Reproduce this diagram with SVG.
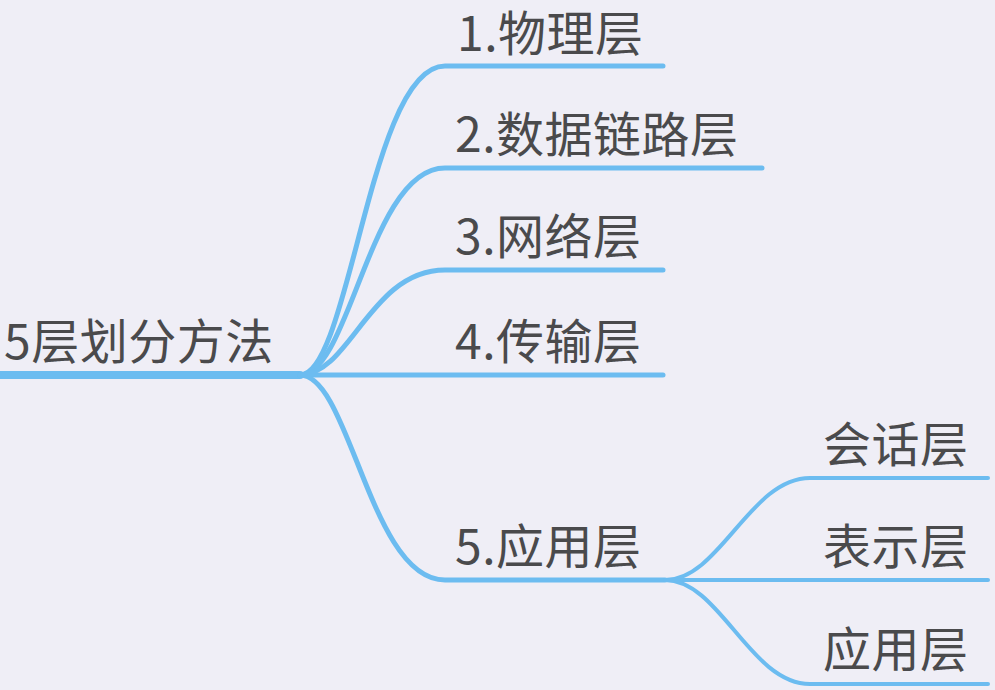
<svg xmlns="http://www.w3.org/2000/svg" width="995" height="690" viewBox="0 0 995 690">
<style>
text{font-family:"Noto Sans CJK SC","Liberation Sans",sans-serif;font-size:48px;fill:#4a4a4c;letter-spacing:0.5px}
.l{fill:none;stroke:#6cbcf0;stroke-linecap:round}
.b{stroke-width:5}
.s{stroke-width:4}
</style>
<rect width="995" height="690" fill="#efeef6"/>
<g id="connectors">
<path class="l" d="M-5,375 H300" stroke-width="8"/>
<path class="l b" d="M300,375 C350,375 370,66 445,66 H663"/>
<path class="l b" d="M300,375 C350,375 370,168 445,168 H762"/>
<path class="l b" d="M300,375 C350,375 370,270 445,270 H663"/>
<path class="l b" d="M300,375 H663"/>
<path class="l b" d="M300,375 C350,375 370,580 445,580 H665"/>
<path class="l s" d="M665,580 C720,580 750,478 810,478 H988"/>
<path class="l s" d="M665,580 H988"/>
<path class="l s" d="M665,580 C720,580 750,684 810,684 H988"/>
</g>
<g id="root"><text x="4" y="359">5层划分方法</text></g>
<g id="n1"><text x="457" y="51">1.物理层</text></g>
<g id="n2"><text x="455" y="152">2.数据链路层</text></g>
<g id="n3"><text x="455" y="254">3.网络层</text></g>
<g id="n4"><text x="455" y="359">4.传输层</text></g>
<g id="n5"><text x="455" y="564">5.应用层</text></g>
<g id="n51"><text x="823" y="462">会话层</text></g>
<g id="n52"><text x="823" y="564">表示层</text></g>
<g id="n53"><text x="823" y="667">应用层</text></g>
</svg>
